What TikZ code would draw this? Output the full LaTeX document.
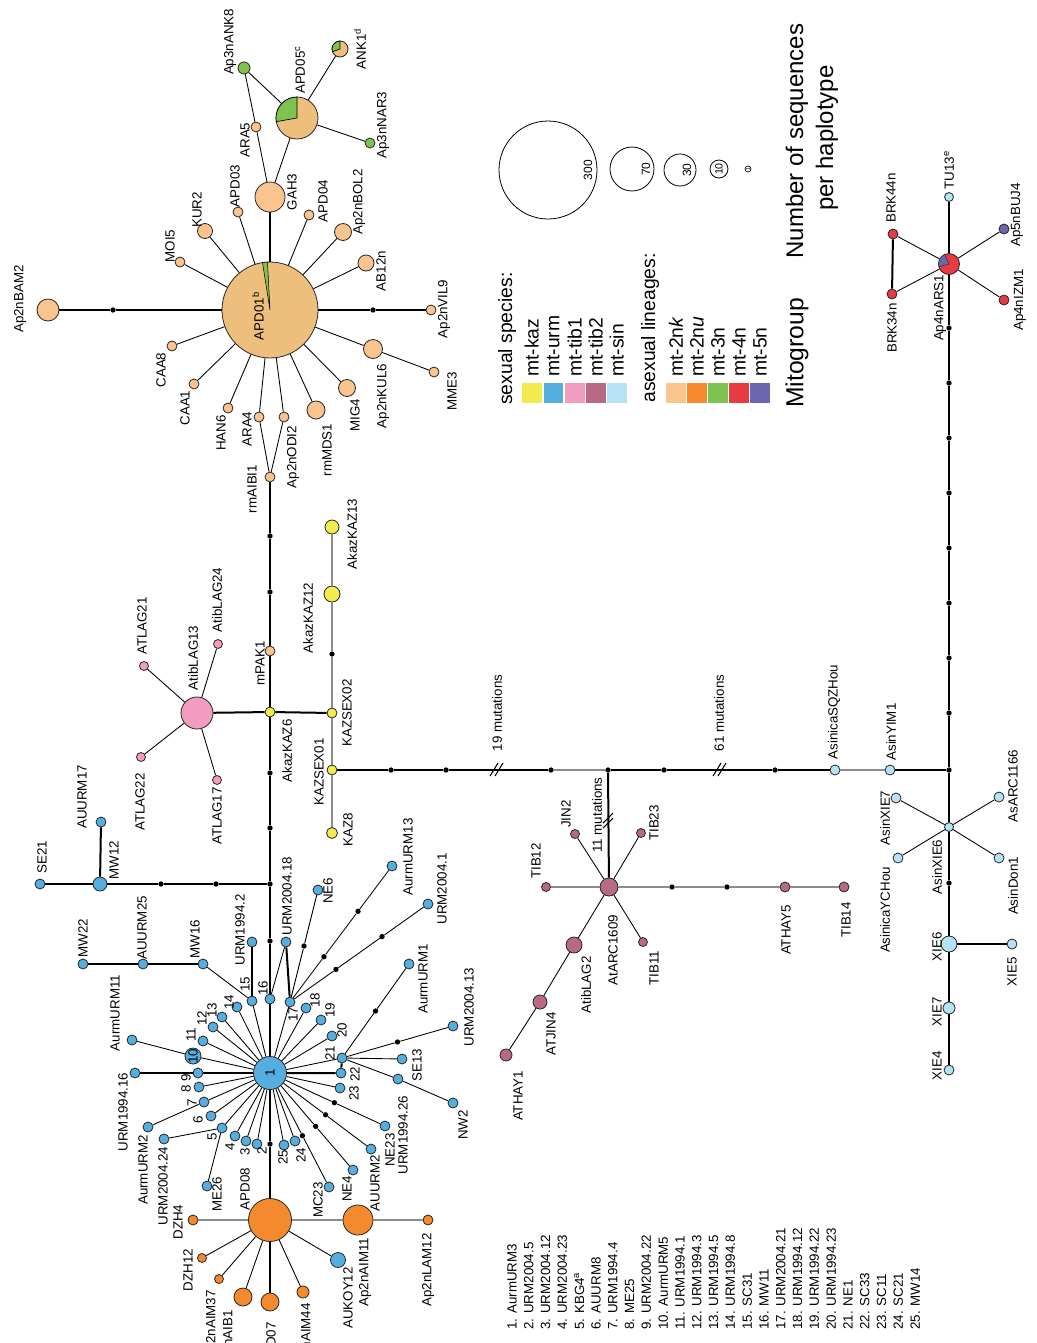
\documentclass[tikz,border=0pt]{standalone}
\usepackage{fontspec}
\setmainfont{Liberation Sans}
\usetikzlibrary{calc}
\definecolor{ckaz}{HTML}{F3EB4E}
\definecolor{curm}{HTML}{56AEE0}
\definecolor{ctiba}{HTML}{F39BC0}
\definecolor{ctibb}{HTML}{B86A85}
\definecolor{csin}{HTML}{B6E2F5}
\definecolor{cnk}{HTML}{FAC48E}
\definecolor{cnu}{HTML}{F48A2D}
\definecolor{cthree}{HTML}{7EC24F}
\definecolor{cfour}{HTML}{E63B40}
\definecolor{cfive}{HTML}{6C66AE}
\definecolor{capd}{HTML}{EEBF7C}
\begin{document}
\begin{tikzpicture}[x=0.75pt,y=-0.75pt,
  hap/.style={circle,draw=black!85,line width=0.6pt,inner sep=0pt},
  rad/.style={minimum size=#1*1.5pt},
  mut/.style={circle,fill=black,inner sep=0pt,minimum size=4pt},
  thk/.style={line width=1.5pt,black},
  thn/.style={line width=0.65pt,black},
  gry/.style={line width=0.8pt,black!45},
  lab/.style={rotate=90,inner sep=0pt,font=\fontsize{10}{12}\selectfont},
  leg/.style={rotate=90,inner sep=0pt,anchor=west,font=\fontsize{14.5}{16}\selectfont},
  big/.style={rotate=90,inner sep=0pt,font=\fontsize{18}{21}\selectfont}]
\useasboundingbox (0,0) rectangle (1036,1343);
\clip (0,0) rectangle (1036,1343);
\fill[white] (0,0) rectangle (1036,1343);

% ---------------- top cluster (APD01)
\node[hap,rad=48,fill=capd] (APD01) at (270,310) {};
\node[hap,rad=11,fill=cnk] (BAM2) at (48,310) {};
\node[mut] (dBAM) at (113,310) {};
\node[hap,rad=5,fill=cnk] (VIL9) at (431,310) {};
\node[mut] (dVIL) at (373,310) {};
\node[hap,rad=5,fill=cnk] (MOI5) at (180,262) {};
\node[hap,rad=7.5,fill=cnk] (KUR2) at (205,231) {};
\node[hap,rad=5,fill=cnk] (APD03) at (238,212) {};
\node[hap,rad=15,fill=cnk] (GAH3) at (270,197) {};
\node[hap,rad=5,fill=cnk] (ARA5) at (256,127) {};
\node[hap,rad=6,fill=cthree] (ANK8) at (244,68) {};
\node[hap,rad=21,fill=capd] (APD05) at (297,118) {};
\node[hap,rad=8,fill=capd] (ANK1) at (340,49) {};
\node[hap,rad=5,fill=cthree] (NAR3) at (370,143) {};
\node[hap,rad=5,fill=cnk] (APD04) at (309,215) {};
\node[hap,rad=8.5,fill=cnk] (BOL2) at (343,232) {};
\node[hap,rad=8,fill=cnk] (AB12n) at (366,263) {};
\node[hap,rad=5,fill=cnk] (CAA8) at (172,346) {};
\node[hap,rad=5,fill=cnk] (CAA1) at (194,384) {};
\node[hap,rad=5,fill=cnk] (HAN6) at (228,408) {};
\node[hap,rad=5,fill=cnk] (ARA4) at (259,417) {};
\node[hap,rad=5,fill=cnk] (ODI2) at (284,417) {};
\node[hap,rad=5,fill=cnk] (AIBI1) at (270,477) {};
\node[hap,rad=9,fill=cnk] (MDS1) at (316,410) {};
\node[hap,rad=8.5,fill=cnk] (MIG4) at (347,388) {};
\node[hap,rad=9.5,fill=cnk] (KUL6) at (373,349) {};
\node[hap,rad=5,fill=cnk] (MME3) at (434,372) {};

\draw[thk] (APD01) -- (dBAM) -- (BAM2);
\draw[thk] (APD01) -- (dVIL) -- (VIL9);
\draw[thk] (APD01) -- (GAH3);
\foreach \n in {MOI5,KUR2,APD03,APD04,BOL2,AB12n,CAA8,CAA1,HAN6,ARA4,ODI2,MDS1,MIG4,KUL6}
  \draw[thn] (APD01) -- (\n);
\draw[thn] (KUL6) -- (MME3);
\draw[thn] (ARA4) -- (AIBI1) -- (ODI2);
\draw[thn] (GAH3) -- (ARA5) -- (ANK8) -- (APD05) -- (GAH3);
\draw[thn] (APD05) -- (ANK1);
\draw[thn] (APD05) -- (NAR3);

% pies
\filldraw[fill=cthree,draw=black,line width=0.4pt] (APD01.center) -- ++(-93:48) arc[start angle=-93,end angle=-99,radius=48] -- cycle;
\filldraw[fill=cthree,draw=black,line width=0.5pt] (APD05.center) -- ++(-90:21) arc[start angle=-90,end angle=-190,radius=21] -- cycle;
\filldraw[fill=cthree,draw=black,line width=0.5pt] (ANK1.center) -- ++(-90:8) arc[start angle=-90,end angle=-200,radius=8] -- cycle;

\node[lab] (L-BAM2) at (20,299) {Ap2nBAM2};
\node[lab] (L-APD01) at (258,316) {APD01\textsuperscript{b}};
\node[lab] (L-MOI5) at (170,246) {MOI5};
\node[lab] (L-KUR2) at (197,210) {KUR2};
\node[lab] (L-APD03) at (235,186) {APD03};
\node[lab] (L-GAH3) at (292,192) {GAH3};
\node[lab] (L-ARA5) at (245,140) {ARA5};
\node[lab] (L-ANK8) at (230,42) {Ap3nANK8};
\node[lab] (L-APD05) at (300,70) {APD05\textsuperscript{c}};
\node[lab] (L-ANK1) at (360,49) {ANK1\textsuperscript{d}};
\node[lab] (L-NAR3) at (383,125) {Ap3nNAR3};
\node[lab] (L-APD04) at (323,201) {APD04};
\node[lab] (L-BOL2) at (359,202) {Ap2nBOL2};
\node[lab] (L-AB12n) at (381,271) {AB12n};
\node[lab] (L-VIL9) at (444,309) {Ap2nVIL9};
\node[lab] (L-CAA8) at (161,370) {CAA8};
\node[lab] (L-CAA1) at (185,408) {CAA1};
\node[lab] (L-HAN6) at (221,433) {HAN6};
\node[lab] (L-ARA4) at (247,429) {ARA4};
\node[lab] (L-ODI2) at (293,457) {Ap2nODI2};
\node[lab] (L-AIBI1) at (252,489) {rmAIBI1};
\node[lab] (L-MDS1) at (327,450) {rmMDS1};
\node[lab] (L-MIG4) at (355,415) {MIG4};
\node[lab] (L-KUL6) at (383,396) {Ap2nKUL6};
\node[lab] (L-MME3) at (452,391) {MME3};

% ---------------- main vertical, LAG and KAZ
\node[mut] (m1) at (270,536) {};
\node[mut] (m2) at (270,592) {};
\node[hap,rad=5,fill=cnk] (PAK1) at (270,651) {};
\node[hap,rad=5,fill=ckaz] (KAZ6) at (270,712) {};
\node[mut] (m3) at (270,773) {};
\node[mut] (m4) at (270,828) {};
\node[mut] (j1) at (270,884) {};
\node[mut] (m5) at (270,941) {};

\node[hap,rad=16,fill=ctiba] (LAG13) at (197,713) {};
\node[hap,rad=4.5,fill=ctiba] (LAG21) at (144,666) {};
\node[hap,rad=4.5,fill=ctiba] (LAG24) at (218,644) {};
\node[hap,rad=4.5,fill=ctiba] (LAG22) at (141,757) {};
\node[hap,rad=4.5,fill=ctiba] (LAG17) at (217,780) {};

\node[hap,rad=7,fill=ckaz] (KAZ13) at (332,527) {};
\node[hap,rad=8,fill=ckaz] (KAZ12) at (332,594) {};
\node[mut] (dK) at (332,654) {};
\node[hap,rad=5,fill=ckaz] (SEX02) at (332,713) {};
\node[hap,rad=5,fill=ckaz] (SEX01) at (332,770) {};
\node[hap,rad=5.5,fill=ckaz] (KAZ8) at (332,833) {};

\draw[thk] (AIBI1) -- (m1) -- (m2) -- (PAK1) -- (KAZ6) -- (m3) -- (m4) -- (j1) -- (m5);
\draw[thk] (LAG13) -- (KAZ6) -- (SEX02);
\foreach \n in {LAG21,LAG24,LAG22,LAG17} \draw[thn] (LAG13) -- (\n);
\draw[gry] (KAZ13) -- (KAZ12) -- (dK) -- (SEX02) -- (SEX01) -- (KAZ8);

\node[lab] (L-LAG24) at (217,600) {AtibLAG24};
\node[lab] (L-LAG21) at (142,626) {ATLAG21};
\node[lab] (L-LAG13) at (193,658) {AtibLAG13};
\node[lab] (L-PAK1) at (260,663) {mPAK1};
\node[lab] (L-KAZ12) at (308,618) {AkazKAZ12};
\node[lab] (L-KAZ13) at (352,534) {AkazKAZ13};
\node[lab] (L-SEX02) at (347,713) {KAZSEX02};
\node[lab] (L-KAZ6) at (287,751) {AkazKAZ6};
\node[lab] (L-SEX01) at (319,772) {KAZSEX01};
\node[lab] (L-LAG22) at (140,802) {ATLAG22};
\node[lab] (L-LAG17) at (217,816) {ATLAG17};
\node[lab] (L-KAZ8) at (348,830) {KAZ8};

% ---------------- long horizontal
\node[mut] (h1) at (391,770) {};
\node[mut] (h2) at (446,770) {};
\node[mut] (h3) at (551,770) {};
\node[mut] (J2) at (608,770) {};
\node[mut] (h4) at (664,770) {};
\node[mut] (h5) at (775,770) {};
\node[hap,rad=5,fill=csin] (SQZ) at (835,770) {};
\node[hap,rad=5,fill=csin] (YIM1) at (890,770) {};
\node[mut] (J3) at (949,770) {};
\draw[thk] (SEX01) -- (h1) -- (h2) -- (h3);
\draw[gry] (h3) -- (J2);
\draw[thk] (J2) -- (h4) -- (h5) -- (SQZ);
\draw[gry] (SQZ) -- (YIM1);
\draw[thk] (YIM1) -- (J3);
\draw[line width=0.8pt] (490,776) -- (498,763) (495,776) -- (503,763);
\draw[line width=0.8pt] (713,776) -- (721,763) (718,776) -- (726,763);
\node[lab] (L-m19) at (497,713) {19 mutations};
\node[lab] (L-m61) at (719,713) {61 mutations};
\node[lab] (L-SQZ) at (834,712) {AsinicaSQZHou};
\node[lab] (L-YIM1) at (891,732) {AsinYIM1};

% ---------------- TIB cluster
\node[hap,rad=9,fill=ctibb] (ARC) at (609,887) {};
\node[hap,rad=4.5,fill=ctibb] (JIN2) at (575,834) {};
\node[hap,rad=4.5,fill=ctibb] (TIB23) at (641,833) {};
\node[hap,rad=4.5,fill=ctibb] (TIB12) at (546,887) {};
\node[hap,rad=4.5,fill=ctibb] (TIB11) at (643,942) {};
\node[hap,rad=8,fill=ctibb] (LAG2) at (574,945) {};
\node[hap,rad=7,fill=ctibb] (JIN4) at (540,1002) {};
\node[hap,rad=6,fill=ctibb] (HAY1) at (506,1055) {};
\node[mut] (t1) at (672,887) {};
\node[mut] (t2) at (727,887) {};
\node[hap,rad=5,fill=ctibb] (HAY5) at (785,887) {};
\node[hap,rad=5,fill=ctibb] (TIB14) at (844,887) {};
\draw[thk] (J2) -- (ARC);
\draw[line width=0.8pt] (603,828) -- (613,818) (603,823) -- (613,813);
\foreach \n in {JIN2,TIB23,TIB11,LAG2} \draw[thn] (ARC) -- (\n);
\draw[thn] (LAG2) -- (JIN4) -- (HAY1);
\draw[gry] (TIB12) -- (ARC) -- (t1) -- (t2) -- (HAY5) -- (TIB14);
\node[lab] (L-m11) at (597,815) {11 mutations};
\node[lab] (L-JIN2) at (566,814) {JIN2};
\node[lab] (L-TIB23) at (654,823) {TIB23};
\node[lab] (L-TIB12) at (536,861) {TIB12};
\node[lab] (L-ARC) at (613,950) {AtARC1609};
\node[lab] (L-TIB11) at (654,968) {TIB11};
\node[lab] (L-LAG2) at (586,985) {AtibLAG2};
\node[lab] (L-JIN4) at (551,1034) {ATJIN4};
\node[lab] (L-HAY1) at (518,1096) {ATHAY1};
\node[lab] (L-HAY5) at (786,930) {ATHAY5};
\node[lab] (L-TIB14) at (846,920) {TIB14};

% ---------------- right cluster
\node[hap,rad=4.5,fill=csin] (TU13) at (949,197) {};
\node[hap,rad=10.5,fill=cfour] (ARS1) at (949,264) {};
\node[hap,rad=5,fill=cfour] (BRK44) at (893,234) {};
\node[hap,rad=5,fill=cfour] (BRK34) at (892,294) {};
\node[hap,rad=5,fill=cfive] (BUJ4) at (1004,229) {};
\node[hap,rad=5,fill=cfour] (IZM1) at (1004,300) {};
\foreach \i/\y in {1/328,2/383,3/438,4/493,5/548,6/603,7/658,8/713}
  \node[mut] (r\i) at (949,\y) {};
\node[hap,rad=4.5,fill=csin] (AXIE6) at (949,827) {};
\node[hap,rad=5,fill=csin] (AXIE7) at (896,798) {};
\node[hap,rad=5,fill=csin] (YCH) at (898,858) {};
\node[hap,rad=5,fill=csin] (ARC66) at (999,797) {};
\node[hap,rad=5,fill=csin] (DON1) at (999,858) {};
\node[mut] (r9) at (949,883) {};
\node[hap,rad=8,fill=csin] (XIE6) at (949,944) {};
\node[hap,rad=5,fill=csin] (XIE5) at (1012,944) {};
\node[hap,rad=6,fill=csin] (XIE7) at (949,1008) {};
\node[hap,rad=5,fill=csin] (XIE4) at (949,1070) {};
\draw[thk] (TU13) -- (ARS1) -- (r1) -- (r2) -- (r3) -- (r4) -- (r5) -- (r6) -- (r7) -- (r8) -- (J3) -- (AXIE6) -- (r9) -- (XIE6) -- (XIE7) -- (XIE4);
\draw[thk] (XIE6) -- (XIE5);
\draw[thk] (BRK44) -- (BRK34);
\foreach \n in {BRK44,BRK34,BUJ4,IZM1} \draw[thn] (ARS1) -- (\n);
\foreach \n in {AXIE7,YCH,ARC66,DON1} \draw[thn] (AXIE6) -- (\n);
\filldraw[fill=cfive,draw=black!80,line width=0.4pt] (ARS1.center) -- ++(-115:10.5) arc[start angle=-115,end angle=-195,radius=10.5] -- cycle;
\node[lab] (L-TU13) at (949,170) {TU13\textsuperscript{e}};
\node[lab] (L-BRK44) at (891,198) {BRK44n};
\node[lab] (L-BRK34) at (892,328) {BRK34n};
\node[lab] (L-ARS1) at (940,308) {Ap4nARS1};
\node[lab] (L-BUJ4) at (1017,215) {Ap5nBUJ4};
\node[lab] (L-IZM1) at (1020,300) {Ap4nIZM1};
\node[lab] (L-AXIE7) at (885,818) {AsinXIE7};
\node[lab] (L-YCH) at (885,910) {AsinicaYCHou};
\node[lab] (L-AXIE6) at (937,867) {AsinXIE6};
\node[lab] (L-ARC66) at (1013,786) {AsARC1166};
\node[lab] (L-DON1) at (1013,886) {AsinDon1};
\node[lab] (L-XIE6) at (937,947) {XIE6};
\node[lab] (L-XIE5) at (1012,972) {XIE5};
\node[lab] (L-XIE7) at (937,1012) {XIE7};
\node[lab] (L-XIE4) at (937,1066) {XIE4};

% ---------------- URM cluster
\node[hap,rad=16.5,fill=curm] (u1) at (270,1073) {};
\node[lab] (L-u1) at (270,1073) {1};
\foreach \i/\x/\y in {2/257/1144,3/246/1141,4/235/1136,5/222/1128,6/211/1116,7/204/1102,8/199/1087,9/198/1073,
  11/203/1041,12/213/1027,13/222/1017,14/237/1007,15/252/1001,16/270/999,17/290/1002,18/306/1008,19/321/1020,
  20/332/1036,21/342/1058,22/341/1073,23/340/1088,24/295/1141,25/284/1145}
  \node[hap,rad=5,fill=curm] (u\i) at (\x,\y) {};
\node[hap,rad=8,fill=curm] (u10) at (193,1056) {};
\node[lab] (L-u10) at (193,1056) {10};

\node[hap,rad=5,fill=curm] (SE21) at (40,884) {};
\node[hap,rad=7,fill=curm] (MW12) at (100,884) {};
\node[hap,rad=5,fill=curm] (AU17) at (101,822) {};
\node[mut] (bd1) at (216,884) {};
\node[mut] (bd2) at (161,884) {};
\node[hap,rad=5,fill=curm] (MW22) at (83,964) {};
\node[hap,rad=5,fill=curm] (AU25) at (143,964) {};
\node[hap,rad=5,fill=curm] (MW16) at (203,964) {};
\node[hap,rad=5,fill=curm] (AU11) at (132,1040) {};
\node[hap,rad=5,fill=curm] (U942) at (252,942) {};
\node[hap,rad=5,fill=curm] (U0418) at (286,942) {};
\node[hap,rad=5,fill=curm] (NE6) at (318,890) {};
\node[hap,rad=5,fill=curm] (A13) at (392,866) {};
\node[hap,rad=5,fill=curm] (U041) at (428,904) {};
\node[hap,rad=5,fill=curm] (AU1) at (409,964) {};
\node[hap,rad=5,fill=curm] (U0413) at (453,1026) {};
\node[hap,rad=5,fill=curm] (SE13) at (402,1059) {};
\node[hap,rad=5,fill=curm] (U9426) at (398,1079) {};
\node[hap,rad=5,fill=curm] (NW2) at (453,1103) {};
\node[hap,rad=5,fill=curm] (NE23) at (385,1126) {};
\node[hap,rad=5,fill=curm] (AUU2) at (371,1149) {};
\node[hap,rad=5,fill=curm] (NE4) at (353,1170) {};
\node[hap,rad=5,fill=curm] (MC23) at (329,1187) {};
\node[hap,rad=5,fill=curm] (U9416) at (135,1073) {};
\node[hap,rad=5,fill=curm] (AU2) at (148,1127) {};
\node[hap,rad=5,fill=curm] (U0424) at (164,1139) {};
\node[hap,rad=5,fill=curm] (ME26) at (207,1186) {};

\node[mut] (dNE6) at ($(u17)!0.5!(NE6)$) {};
\node[mut] (dA13a) at ($(u17)!0.333!(A13)$) {};
\node[mut] (dA13b) at ($(u17)!0.667!(A13)$) {};
\node[mut] (d41a) at ($(u17)!0.333!(U041)$) {};
\node[mut] (d41b) at ($(u17)!0.667!(U041)$) {};
\node[mut] (dAU1) at ($(u21)!0.5!(AU1)$) {};
\node[mut] (d413) at ($(u21)!0.5!(U0413)$) {};
\node[mut] (dNE23) at ($(u1)!0.56!(NE23)$) {};
\node[mut] (dAUU2) at ($(u1)!0.55!(AUU2)$) {};
\node[mut] (dNE4) at ($(u1)!0.55!(NE4)$) {};
\node[mut] (dMC) at ($(u1)!0.55!(MC23)$) {};
\node[mut] (dM) at (270,1144) {};

\draw[thk] (j1) -- (bd1) -- (bd2) -- (MW12) -- (SE21);
\draw[thk] (MW12) -- (AU17);
\draw[thk] (MW22) -- (AU25) -- (MW16);
\draw[thk] (u15) -- (U942);
\draw[thk] (U0418) -- (u17);
\draw[thk] (m5) -- (u16) -- (u1);
\draw[thk] (U9416) -- (u9) -- (u1);
\draw[thk] (u1) -- (u22) -- (u21);
\foreach \i in {2,3,4,5,6,7,8,10,11,12,13,14,15,17,18,19,20,21,23,24,25}
  \draw[thn] (u1) -- (u\i);
\draw[thn] (u15) -- (MW16);
\draw[thn] (u16) -- (U0418);
\draw[thn] (u17) -- (dNE6) -- (NE6);
\draw[thn] (u17) -- (dA13a) -- (dA13b) -- (A13);
\draw[thn] (u17) -- (d41a) -- (d41b) -- (U041);
\draw[thn] (u21) -- (dAU1) -- (AU1);
\draw[thn] (u21) -- (d413) -- (U0413);
\draw[thn] (u21) -- (SE13);
\draw[thn] (u21) -- (U9426) -- (NW2);
\draw[thn] (u1) -- (dNE23) -- (NE23);
\draw[thn] (u1) -- (dAUU2) -- (AUU2);
\draw[thn] (u1) -- (dNE4) -- (NE4);
\draw[thn] (u1) -- (dMC) -- (MC23);
\draw[thn] (u10) -- (AU11);
\draw[thn] (u7) -- (AU2);
\draw[thn] (u5) -- (U0424);
\draw[thn] (u5) -- (ME26);

\node[lab] (L-SE21) at (42,857) {SE21};
\node[lab] (L-MW12) at (114,860) {MW12};
\node[lab] (L-AU17) at (82,797) {AUURM17};
\node[lab] (L-MW22) at (83,938) {MW22};
\node[lab] (L-AU25) at (142,928) {AUURM25};
\node[lab] (L-MW16) at (195,939) {MW16};
\node[lab] (L-AU11) at (115,1013) {AurmURM11};
\node[lab] (L-U942) at (240,930) {URM1994.2};
\node[lab] (L-U0418) at (287,896) {URM2004.18};
\node[lab] (L-NE6) at (328,891) {NE6};
\node[lab] (L-A13) at (408,857) {AurmURM13};
\node[lab] (L-U041) at (442,889) {URM2004.1};
\node[lab] (L-AU1) at (423,979) {AurmURM1};
\node[lab] (L-U0413) at (469,1007) {URM2004.13};
\node[lab] (L-SE13) at (417,1065) {SE13};
\node[lab] (L-NW2) at (463,1125) {NW2};
\node[lab] (L-U9426) at (403,1135) {URM1994.26};
\node[lab] (L-NE23) at (390,1150) {NE23};
\node[lab] (L-AUU2) at (375,1183) {AUURM2};
\node[lab] (L-NE4) at (347,1189) {NE4};
\node[lab] (L-MC23) at (318,1200) {MC23};
\node[lab] (L-U9416) at (123,1112) {URM1994.16};
\node[lab] (L-AU2) at (143,1170) {AurmURM2};
\node[lab] (L-U0424) at (163,1186) {URM2004.24};
\node[lab] (L-ME26) at (217,1194) {ME26};
\foreach \t/\x/\y in {2/262/1151,25/283/1157,24/301/1155,3/245/1152,4/230/1147,5/212/1137,6/198/1120,7/192/1103,
  {8 9}/186/1083,11/191/1035,12/202/1018,13/212/1010,14/229/1002,15/245/984,16/263/988,17/293/1014,18/315/1000,
  19/330/1010,20/342/1030,21/330/1053,22/355/1074,23/354/1093}
  \node[lab] (L-n\x) at (\x,\y) {\t};

% ---------------- APD08 cluster
\node[hap,rad=21.5,fill=cnu] (APD08) at (270,1220) {};
\node[hap,rad=5,fill=cnu] (DZH4) at (193,1220) {};
\node[hap,rad=4.5,fill=cnu] (DZH12) at (202,1258) {};
\node[hap,rad=4.5,fill=cnu] (AIM37) at (219,1279) {};
\node[hap,rad=9,fill=cnu] (AIB1) at (243,1297) {};
\node[hap,rad=9,fill=cnu] (APD07) at (270,1302) {};
\node[hap,rad=6,fill=cnu] (AIM44) at (303,1292) {};
\node[hap,rad=7.5,fill=curm] (KOY12) at (338,1260) {};
\node[hap,rad=15,fill=cnu] (AIM11) at (358,1220) {};
\node[hap,rad=5,fill=cnu] (LAM12) at (428,1220) {};
\draw[thk] (u1) -- (dM) -- (APD08) -- (APD07);
\foreach \n in {DZH12,AIM37,AIB1,AIM44,KOY12} \draw[thn] (APD08) -- (\n);
\draw[gry] (APD08) -- (DZH4);
\draw[gry] (APD08) -- (AIM11) -- (LAM12);
\node[lab] (L-APD08) at (245,1189) {APD08};
\node[lab] (L-DZH4) at (178,1222) {DZH4};
\node[lab] (L-DZH12) at (188,1270) {DZH12};
\node[lab,anchor=east] (L-AIM37) at (212,1290) {Ap2nAIM37};
\node[lab,anchor=east] (L-AIB1) at (229,1310) {Ap2nAIB1};
\node[lab,anchor=east] (L-APD07) at (271,1322) {APD07};
\node[lab,anchor=east] (L-AIM44) at (307,1303) {Ap2nAIM44};
\node[lab] (L-KOY12) at (348,1298) {AUKOY12};
\node[lab] (L-AIM11) at (365,1272) {Ap2nAIM11};
\node[lab] (L-LAM12) at (428,1270) {Ap2nLAM12};

% ---------------- numbered list
\foreach \t [count=\i] in {{1. AurmURM3},{2. URM2004.5},{3. URM2004.12},{4. URM2004.23},{5. KBG4\textsuperscript{a}},
  {6. AUURM8},{7. URM1994.4},{8. ME25},{9. URM2004.22},{10. AurmURM5},{11. URM1994.1},{12. URM1994.3},
  {13. URM1994.5},{14. URM1994.8},{15. SC31},{16. MW11},{17. URM2004.21},{18. URM1994.12},{19. URM1994.22},
  {20. URM1994.23},{21. NE1},{22. SC33},{23. SC11},{24. SC21},{25. MW14}}
  \node[lab,anchor=west] (li\i) at ({512+(\i-1)*16.8},1330) {\t};

% ---------------- legend
\node[leg] (Lsex) at (507,405) {sexual species:};
\foreach \c/\t/\x in {ckaz/mt-kaz/522,curm/mt-urm/543.5,ctiba/mt-tib1/565,ctibb/mt-tib2/586,csin/mt-sin/607}
  {\fill[\c] (\x,383) rectangle ++(19.5,20);
   \node[leg] (Lg-\c) at (\x+9.75,377) {\t};}
\node[leg] (Lasex) at (650,403) {asexual lineages:};
\foreach \c/\t/\x in {cnk/{mt-2n\textit{k}}/666,cnu/{mt-2n\textit{u}}/687,cthree/mt-3n/708,cfour/mt-4n/729,cfive/mt-5n/750}
  {\fill[\c] (\x,383) rectangle ++(20,20);
   \node[leg] (Lg-\c) at (\x+10,377) {\t};}
\node[big,anchor=west,font=\fontsize{18.5}{21}\selectfont] (Lmito) at (797,408) {Mitogroup};
\node[big] (Lnum) at (797,141) {Number of sequences};
\node[big] (Lper) at (827,138) {per haplotype};
\draw[line width=0.6pt] (548,170) circle[radius=49];
\draw[line width=0.6pt] (632,169) circle[radius=22];
\draw[line width=0.6pt] (680,170) circle[radius=16];
\draw[line width=0.6pt] (719,169) circle[radius=9];
\draw[line width=0.5pt] (748,169) circle[radius=3];
\node[lab,font=\fontsize{9}{10}\selectfont] (s300) at (588,170) {300};
\node[lab,font=\fontsize{9}{10}\selectfont] (s70) at (646,169) {70};
\node[lab,font=\fontsize{9}{10}\selectfont] (s30) at (687,170) {30};
\node[lab,font=\fontsize{8}{9}\selectfont] (s10) at (719,169) {10};
\node[lab,font=\fontsize{4}{5}\selectfont] (s1) at (748,169) {1};
\end{tikzpicture}
\end{document}
